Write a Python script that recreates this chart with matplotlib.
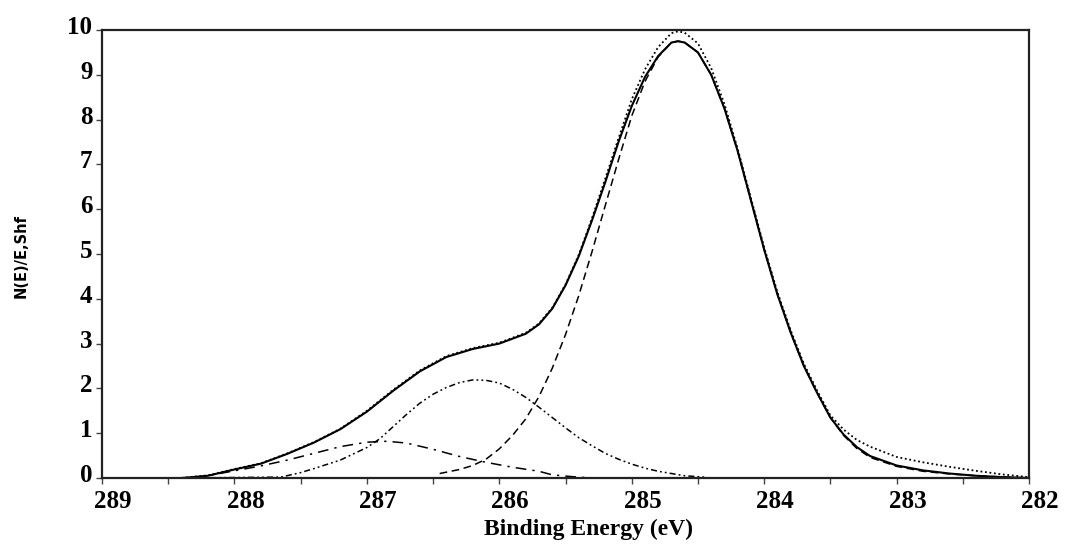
import numpy as np
import matplotlib
matplotlib.use('Agg')
import matplotlib.pyplot as plt
import matplotlib.transforms as mtransforms
from matplotlib.ticker import MultipleLocator


# measured spectrum (dotted, outer trace)
data_x = [288.4, 288.2, 288.0, 287.8, 287.6, 287.4, 287.2, 287.0, 286.8, 286.6,
          286.4, 286.2, 286.0, 285.8, 285.7, 285.6, 285.5, 285.4, 285.3, 285.2,
          285.1, 285.0, 284.9, 284.8, 284.7, 284.65, 284.6, 284.5, 284.4, 284.3,
          284.2, 284.1, 284.0, 283.9, 283.8, 283.7, 283.6, 283.5, 283.4, 283.3,
          283.2, 283.0, 282.8, 282.6, 282.4, 282.2, 282.0]
data_y = [0.0, 0.06, 0.2, 0.33, 0.55, 0.8, 1.1, 1.5, 1.97, 2.4,
          2.72, 2.9, 3.02, 3.24, 3.45, 3.8, 4.32, 4.98, 5.8, 6.68,
          7.58, 8.45, 9.12, 9.62, 9.93, 9.97, 9.94, 9.7, 9.15, 8.35,
          7.35, 6.25, 5.15, 4.15, 3.3, 2.55, 1.95, 1.4, 1.08, 0.85,
          0.7, 0.47, 0.35, 0.25, 0.16, 0.08, 0.02]

# fitted envelope (solid)
fit_x = [288.4, 288.2, 288.0, 287.8, 287.6, 287.4, 287.2, 287.0, 286.8, 286.6,
         286.4, 286.2, 286.0, 285.8, 285.7, 285.6, 285.5, 285.4, 285.3, 285.2,
         285.1, 285.0, 284.9, 284.8, 284.7, 284.65, 284.6, 284.5, 284.4, 284.3,
         284.2, 284.1, 284.0, 283.9, 283.8, 283.7, 283.6, 283.5, 283.4, 283.3,
         283.2, 283.0, 282.8, 282.6, 282.4, 282.2, 282.0]
fit_y = [0.0, 0.05, 0.19, 0.32, 0.54, 0.79, 1.09, 1.48, 1.95, 2.38,
         2.7, 2.88, 3.0, 3.22, 3.43, 3.78, 4.3, 4.95, 5.75, 6.6,
         7.5, 8.3, 8.95, 9.42, 9.72, 9.75, 9.72, 9.5, 9.0, 8.25,
         7.3, 6.2, 5.1, 4.1, 3.25, 2.5, 1.9, 1.35, 0.97, 0.69,
         0.49, 0.28, 0.17, 0.1, 0.05, 0.02, 0.0]

# component 1, main peak near 284.7 eV (dashed)
c1_x = [286.45, 286.3, 286.2, 286.1, 286.0, 285.9, 285.8, 285.7, 285.6, 285.5,
        285.4, 285.3, 285.2, 285.1, 285.0, 284.9, 284.8, 284.7, 284.65, 284.6,
        284.5, 284.4, 284.3, 284.2, 284.1, 284.0, 283.9, 283.8, 283.7, 283.6,
        283.5, 283.4, 283.3, 283.2, 283.0, 282.8, 282.6, 282.4, 282.2, 282.0]
c1_y = [0.1, 0.19, 0.28, 0.42, 0.65, 0.95, 1.32, 1.82, 2.45, 3.2,
        4.07, 5.05, 6.08, 7.1, 8.08, 8.85, 9.4, 9.72, 9.75, 9.72,
        9.5, 9.0, 8.25, 7.3, 6.2, 5.1, 4.1, 3.25, 2.5, 1.9,
        1.35, 0.95, 0.66, 0.46, 0.26, 0.15, 0.09, 0.05, 0.02, 0.0]

# component 2, near 286.2 eV (dash-dot-dot)
c2_x = [288.4, 287.65, 287.5, 287.4, 287.2, 287.0, 286.9, 286.8, 286.7, 286.6,
        286.5, 286.4, 286.3, 286.2, 286.1, 286.0, 285.9, 285.8, 285.7, 285.6,
        285.5, 285.4, 285.3, 285.2, 285.1, 285.0, 284.9, 284.8, 284.7, 284.6,
        284.45]
c2_y = [0.0, 0.02, 0.12, 0.21, 0.4, 0.68, 0.88, 1.15, 1.42, 1.67,
        1.87, 2.02, 2.13, 2.19, 2.18, 2.12, 1.98, 1.8, 1.58, 1.35,
        1.12, 0.9, 0.72, 0.55, 0.42, 0.31, 0.22, 0.15, 0.1, 0.05,
        0.02]

# component 3, near 286.9 eV (long dashes)
c3_x = [288.3, 288.15, 288.0, 287.8, 287.6, 287.4, 287.2, 287.0, 286.85, 286.7,
        286.5, 286.3, 286.1, 285.9, 285.7, 285.6, 285.45, 285.3]
c3_y = [0.0, 0.08, 0.16, 0.27, 0.4, 0.55, 0.7, 0.8, 0.82, 0.78,
        0.64, 0.48, 0.35, 0.24, 0.15, 0.07, 0.03, 0.0]

xticks = [289, 288, 287, 286, 285, 284, 283, 282]
yticks = list(range(0, 11))

fig = plt.figure(figsize=(10.65, 5.5), dpi=100)
ax = fig.add_axes([102 / 1065, 72 / 550, 927 / 1065, 448 / 550])

ax.plot(c3_x, c3_y, color='black', lw=1.1, ls=(0, (7, 4, 1.5, 4)))
ax.plot(c2_x, c2_y, color='black', lw=1.1, ls=(0, (1.2, 2, 1.2, 2, 4, 2)))
ax.plot(c1_x, c1_y, color='black', lw=1.1, ls=(0, (5, 3)))
ax.plot(fit_x, fit_y, color='black', lw=1.5)
ax.plot(data_x, data_y, color='black', lw=1.3, ls=(0, (1, 1.5)))

ax.set_xlim(289, 282)
ax.set_ylim(0, 10)
ax.set_xticks(xticks)
ax.xaxis.set_minor_locator(MultipleLocator(0.5))
ax.set_yticks(yticks)

lab_font = dict(family='Liberation Serif', weight='bold', size=18)
ax.set_xticklabels([str(v) for v in xticks], fontdict=lab_font)
ax.set_yticklabels([str(v) for v in yticks], fontdict=lab_font)
ax.tick_params(which='both', direction='out', length=4, width=1, color='#444444')
ax.tick_params(axis='x', pad=5)
ax.tick_params(axis='y', pad=3)

# old software placed labels a little off the ticks
dx = mtransforms.ScaledTranslation(11 / 100, 0, fig.dpi_scale_trans)
for lab in ax.get_xticklabels():
    lab.set_transform(lab.get_transform() + dx)
dy = mtransforms.ScaledTranslation(0, 5 / 100, fig.dpi_scale_trans)
for lab in ax.get_yticklabels():
    lab.set_transform(lab.get_transform() + dy)

for sp in ax.spines.values():
    sp.set_linewidth(1.6)
    sp.set_color('#222222')

fig.text(588 / 1065, 0.038, 'Binding Energy (eV)', ha='center', va='center',
         family='Liberation Serif', weight='bold', size=17)
fig.text(21 / 1065, 0.535, 'N(E)/E,Shf', rotation=90, ha='center', va='center',
         family='DejaVu Sans', weight='bold', size=10.5)

plt.savefig('out.png', dpi=100)
